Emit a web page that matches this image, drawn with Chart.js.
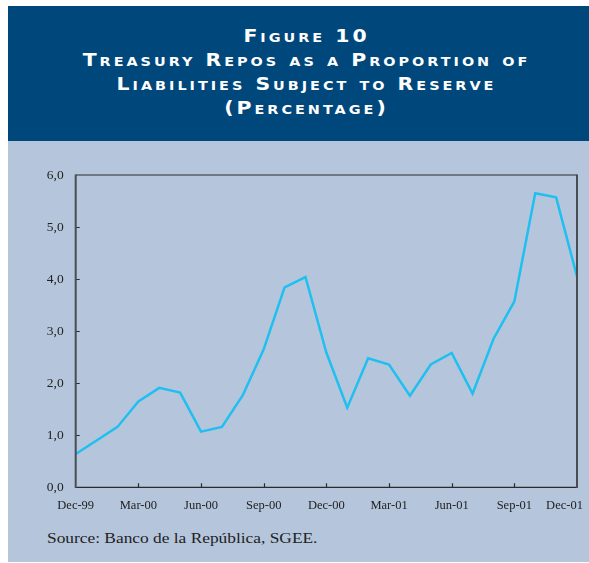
<!DOCTYPE html>
<html>
<head>
<meta charset="utf-8">
<script src="https://cdn.jsdelivr.net/npm/chart.js@4/dist/chart.umd.min.js"></script>
<style>
  html, body { margin: 0; padding: 0; background: #ffffff; }
  #panel { position: absolute; left: 8px; top: 6px; width: 581px; height: 556px; background: #b5c6dc; }
  #header { position: absolute; left: 0; top: 0; width: 581px; height: 135px; background: #00477b; }
  #title {
    position: absolute; left: 8px; top: 19px; width: 581px; text-align: center;
    color: #ffffff; font-family: "DejaVu Sans", sans-serif; font-weight: bold;
    font-variant: small-caps; font-size: 17px; letter-spacing: 2.5px; line-height: 23.9px;
    transform: scaleX(1.2); transform-origin: center top;
  }
  #chartBox { position: absolute; left: 0; top: 135px; width: 581px; height: 385px; }
  #source {
    position: absolute; left: 39px; top: 525px; font-family: "Liberation Serif", serif;
    font-size: 14px; color: #222222; transform: scaleX(1.24); transform-origin: left center;
  }
</style>
</head>
<body>
<div id="panel">
  <div id="header"><div id="title">Figure 10<br>Treasury Repos as a Proportion of<br>Liabilities Subject to Reserve<br>(Percentage)</div></div>
  <div id="chartBox"><canvas id="repoChart" width="581" height="385"></canvas></div>
  <div id="source">Source: Banco de la República, SGEE.</div>
</div>
<script>
const months = [
  "Dec-99", "Jan-00", "Feb-00", "Mar-00", "Apr-00", "May-00", "Jun-00",
  "Jul-00", "Aug-00", "Sep-00", "Oct-00", "Nov-00", "Dec-00",
  "Jan-01", "Feb-01", "Mar-01", "Apr-01", "May-01", "Jun-01",
  "Jul-01", "Aug-01", "Sep-01", "Oct-01", "Nov-01", "Dec-01"
];
const repoShare = [
  0.64, 0.90, 1.16, 1.65, 1.91, 1.82, 1.07,
  1.16, 1.77, 2.65, 3.84, 4.04, 2.59,
  1.53, 2.48, 2.36, 1.76, 2.36, 2.58,
  1.80, 2.85, 3.57, 5.65, 5.57, 4.05
];
const yTicks = [0, 1, 2, 3, 4, 5, 6];

const serif = (size) => ({ family: "'Liberation Serif', 'Times New Roman', serif", size });

// frame around the plot plus short inward ticks on both axes
const framePlugin = {
  id: 'frame',
  afterDraw(chart) {
    const { ctx, chartArea: a, scales } = chart;
    ctx.save();
    ctx.strokeStyle = '#2b2b2b';
    ctx.lineWidth = 1.2;
    ctx.beginPath();
    ctx.moveTo(a.left, a.top); ctx.lineTo(a.right, a.top);
    ctx.moveTo(a.left, a.bottom); ctx.lineTo(a.right, a.bottom);
    months.forEach((m, i) => {
      if (i % 3 === 0 && i > 0 && i < months.length - 1) {
        const x = Math.round(scales.x.getPixelForValue(i)) + 0.5;
        ctx.moveTo(x, a.bottom);
        ctx.lineTo(x, a.bottom - 4);
      }
    });
    yTicks.slice(1, -1).forEach((v) => {
      const y = Math.round(scales.y.getPixelForValue(v)) + 0.5;
      ctx.moveTo(a.left, y);
      ctx.lineTo(a.left + 4, y);
    });
    ctx.stroke();
    // side walls are a bit heavier and greyer
    ctx.strokeStyle = '#4a4d55';
    ctx.lineWidth = 2;
    ctx.beginPath();
    ctx.moveTo(a.left, a.top - 0.6); ctx.lineTo(a.left, a.bottom + 0.6);
    ctx.moveTo(a.right, a.top - 0.6); ctx.lineTo(a.right, a.bottom + 0.6);
    ctx.stroke();
    ctx.restore();
  }
};

new Chart(document.getElementById('repoChart'), {
  type: 'line',
  data: {
    labels: months,
    datasets: [{
      data: repoShare,
      borderColor: '#1fbff0',
      borderWidth: 2.5,
      pointRadius: 0,
      tension: 0,
      fill: false
    }]
  },
  options: {
    responsive: false,
    animation: false,
    layout: { padding: { top: 34, right: 12, left: 0, bottom: 0 } },
    plugins: { legend: { display: false }, tooltip: { enabled: false } },
    scales: {
      x: {
        grid: { display: false, drawTicks: false },
        border: { display: false },
        ticks: {
          autoSkip: false, maxRotation: 0, padding: 11, color: '#222222', font: serif(12.5),
          // the last label sits pulled in from the right edge
          callback: (v, i) => {
            if (i % 3 !== 0) return '';
            return i === months.length - 1 ? months[i] + '\u2003\u2003' : months[i];
          }
        },
        afterFit: (s) => { s.height = 38.7; s.paddingLeft = 0; s.paddingRight = 0; }
      },
      y: {
        min: 0, max: 6,
        afterBuildTicks: (s) => { s.ticks = yTicks.map(v => ({ value: v })); },
        grid: { display: false, drawTicks: false },
        border: { display: false },
        ticks: {
          padding: 12, color: '#222222', font: serif(13.5),
          callback: (v) => v.toFixed(1).replace('.', ',')
        },
        afterFit: (s) => { s.width = 67.7; s.paddingTop = 0; s.paddingBottom = 0; }
      }
    }
  },
  plugins: [framePlugin]
});
</script>
</body>
</html>
